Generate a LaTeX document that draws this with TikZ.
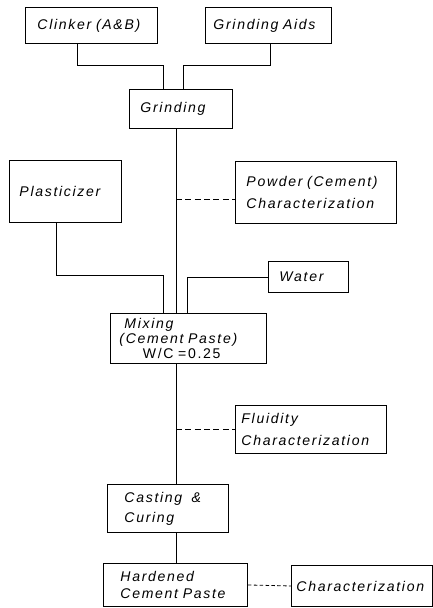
\documentclass[tikz,border=0pt]{standalone}
\usepackage{fontspec}
\setsansfont[LetterSpace=12]{Liberation Sans}
\usetikzlibrary{positioning}
\hyphenpenalty=10000
\exhyphenpenalty=10000

\tikzset{
  stage/.style={draw,line width=0.8pt,anchor=north west,align=left,inner ysep=0pt,
    font=\fontsize{12}{18}\selectfont\sffamily\itshape},
  feed/.style={line width=0.7pt},
  probe/.style={line width=0.7pt,dash pattern=on 5pt off 3pt}
}

\begin{document}
\begin{tikzpicture}[x=0.03cm,y=-0.03cm]
      \useasboundingbox (0,0) rectangle (433,608);
      \node[stage,minimum height=1.08cm,inner xsep=0.36cm,text width=3.24cm] (clinker) at (25,7) {Clinker (A\&B)};
      \node[stage,minimum height=1.08cm,inner xsep=0.24cm,text width=3.30cm] (aids) at (205,7) {Grinding Aids};
      \node[stage,minimum height=1.17cm,inner xsep=0.33cm,text width=2.43cm] (grinding) at (129,89) {Grinding};
      \node[stage,minimum height=1.86cm,inner xsep=0.30cm,text width=2.76cm] (plast) at (9,160) {Plasticizer};
      \node[stage,minimum height=1.86cm,inner xsep=0.33cm,text width=4.17cm] (powder) at (235,161) {Powder (Cement)\\Characterization};
      \node[stage,minimum height=0.93cm,inner xsep=0.33cm,text width=1.74cm] (water) at (268,261) {Water};
      \node[stage,minimum height=1.50cm,inner xsep=0.27cm,text width=4.14cm,
        font=\fontsize{12}{13}\selectfont\sffamily\itshape] (mixing) at (110,313) {\hspace*{0.15cm}Mixing\\(Cement Paste)\\\hspace*{0.7cm}\upshape W/C =0.25};
      \node[stage,minimum height=1.44cm,inner xsep=0.18cm,text width=4.17cm,
        font=\fontsize{12}{19}\selectfont\sffamily\itshape] (fluid) at (235,405) {Fluidity\\Characterization};
      \node[stage,minimum height=1.44cm,inner xsep=0.51cm,text width=2.61cm,
        font=\fontsize{12}{17}\selectfont\sffamily\itshape] (casting) at (107,484) {Casting \ \&\\Curing};
      \node[stage,minimum height=1.29cm,inner xsep=0.51cm,text width=3.30cm,
        font=\fontsize{12}{15}\selectfont\sffamily\itshape] (hardened) at (103,563) {Hardened\\Cement Paste};
      \node[stage,minimum height=1.23cm,inner xsep=0.15cm,text width=3.93cm] (charac) at (291,565) {Characterization};
      % bends and the main line
      \coordinate (m) at (176,0);
      \coordinate (kl) at (77,65);
      \coordinate (kr) at (163,65);
      \coordinate (al) at (270,65);
      \coordinate (ar) at (183,65);
      \coordinate (pl) at (56,275);
      \coordinate (pr) at (163,275);
      \coordinate (wr) at (187,0);
      \draw[feed] (clinker.south -| kl) -- (kl) -- (kr) -- (kr |- grinding.north);
      \draw[feed] (aids.south -| al) -- (al) -- (ar) -- (ar |- grinding.north);
      \draw[feed] (grinding.south -| m) -- (mixing.north -| m);
      \draw[probe] ([yshift=-0.2cm]powder.west -| m) -- ([yshift=-0.2cm]powder.west);
      \draw[feed] (plast.south -| pl) -- (pl) -- (pr) -- (pr |- mixing.north);
      \draw[feed] (water.west) -- (water.west -| wr) -- (wr |- mixing.north);
      \draw[feed] (mixing.south -| m) -- (casting.north -| m);
      \draw[probe] (fluid.west -| m) -- (fluid.west);
      \draw[feed] (casting.south -| m) -- (hardened.north -| m);
      \draw[probe,dash pattern=on 3pt off 2pt] (hardened.east) -- (charac.west);
\end{tikzpicture}
\end{document}
